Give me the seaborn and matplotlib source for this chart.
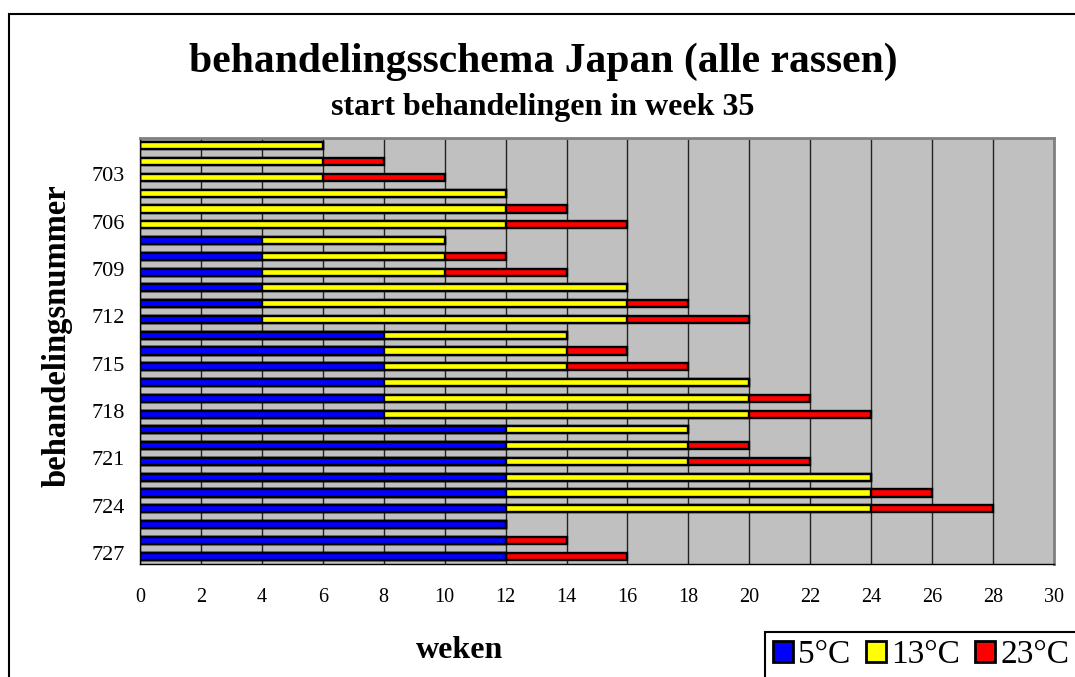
import numpy as np
import pandas as pd
import matplotlib.pyplot as plt
import seaborn as sns
from matplotlib.patches import Patch, Rectangle

# ------------------------------
# data: weken per temperatuur
# ------------------------------
nummers = [str(n) for n in range(701, 728)]
weken_5c = [0, 0, 0, 0, 0, 0, 4, 4, 4, 4, 4, 4, 8, 8, 8, 8, 8, 8,
            12, 12, 12, 12, 12, 12, 12, 12, 12]
weken_13c = [6, 6, 6, 12, 12, 12, 6, 6, 6, 12, 12, 12, 6, 6, 6, 12, 12, 12,
             6, 6, 6, 12, 12, 12, 0, 0, 0]
weken_23c = [0, 2, 4, 0, 2, 4, 0, 2, 4, 0, 2, 4, 0, 2, 4, 0, 2, 4,
             0, 2, 4, 0, 2, 4, 0, 2, 4]
labels = ["5°C", "13°C", "23°C"]
kleuren = ["#0000FF", "#FFFF00", "#FF0000"]

df = pd.DataFrame({"nr": nummers, "c5": weken_5c, "c13": weken_13c, "c23": weken_23c})
df["eind13"] = df["c5"] + df["c13"]
df["eind23"] = df["eind13"] + df["c23"]

# ------------------------------
# figure
# ------------------------------
sns.set_style("white")
plt.rcParams["font.family"] = ["Liberation Serif", "DejaVu Serif"]
plt.rcParams["text.color"] = "black"
plt.rcParams["xtick.color"] = "black"
plt.rcParams["ytick.color"] = "black"

fig = plt.figure(figsize=(10.75, 6.77), dpi=100)
ax = fig.add_axes([140 / 1075, 1 - 564 / 677, 914 / 1075, 426 / 677])
ax.set_facecolor("#C0C0C0")

# stacked bars: draw the totals first, then the shorter parts on top
for col, kleur in [("eind23", kleuren[2]), ("eind13", kleuren[1]), ("c5", kleuren[0])]:
    sns.barplot(data=df, x=col, y="nr", order=nummers, orient="h", color=kleur,
                saturation=1, width=0.45, edgecolor="black", linewidth=1.7, ax=ax)

ax.set_xlim(0, 30)
ax.set_ylim(26.5, -0.5)
ax.set_xticks(np.arange(0, 31, 2))
ax.tick_params(axis="x", labelsize=14.5, length=5, width=1, color="black",
               direction="out", pad=12)
ax.set_axisbelow(True)
ax.xaxis.grid(True, color="#222222", linewidth=1)

# category ticks at the boundaries, labels every third row
ax.set_yticks(np.arange(-0.5, 27, 1))
ax.set_yticklabels([])
ax.tick_params(axis="y", which="major", length=6, width=1, color="black", direction="out")
lab_idx = [i for i in range(27) if (i + 1) % 3 == 0]
ax.set_yticks([i - 0.2 for i in lab_idx], minor=True)
ax.set_yticklabels([nummers[i] for i in lab_idx], minor=True)
ax.tick_params(axis="y", which="minor", length=0, labelsize=16, pad=11)

ax.set_xlabel("")
ax.set_ylabel("")
for side in ["top", "right"]:
    ax.spines[side].set_color("#808080")
    ax.spines[side].set_linewidth(2)
for side in ["left", "bottom"]:
    ax.spines[side].set_color("black")
    ax.spines[side].set_linewidth(1)

# titles and axis labels
fig.text(543 / 1075, 1 - 62 / 677, "behandelingsschema Japan (alle rassen)",
         ha="center", va="center", fontsize=30, fontweight="bold")
fig.text(543 / 1075, 1 - 108 / 677, "start behandelingen in week 35",
         ha="center", va="center", fontsize=23, fontweight="bold")
fig.text(57 / 1075, 1 - 336 / 677, "behandelingsnummer", rotation=90,
         ha="center", va="center", fontsize=23.5, fontweight="bold")
fig.text(460 / 1075, 1 - 651 / 677, "weken", ha="center", va="center",
         fontsize=23, fontweight="bold")

# outer border of the chart
fig.patches.append(Rectangle((9 / 1075, -0.05), 1.1, 1 - 14 / 677 + 0.05,
                             transform=fig.transFigure, fill=False,
                             edgecolor="black", linewidth=1.5))

# legend box
fig.patches.append(Rectangle((765 / 1075, -0.05), 0.5, 0.05 + 1 - 632 / 677,
                             transform=fig.transFigure, facecolor="white",
                             edgecolor="black", linewidth=1.5))
handles = [Patch(facecolor=k, edgecolor="black", linewidth=2) for k in kleuren]
fig.legend(handles, labels, loc="center left", ncol=3, frameon=False,
           bbox_to_anchor=(773 / 1075, 1 - 655 / 677), fontsize=24,
           handlelength=0.6, handleheight=0.6, handletextpad=0.16,
           columnspacing=0.45, borderpad=0, borderaxespad=0)

plt.savefig("out.png", dpi=100)
